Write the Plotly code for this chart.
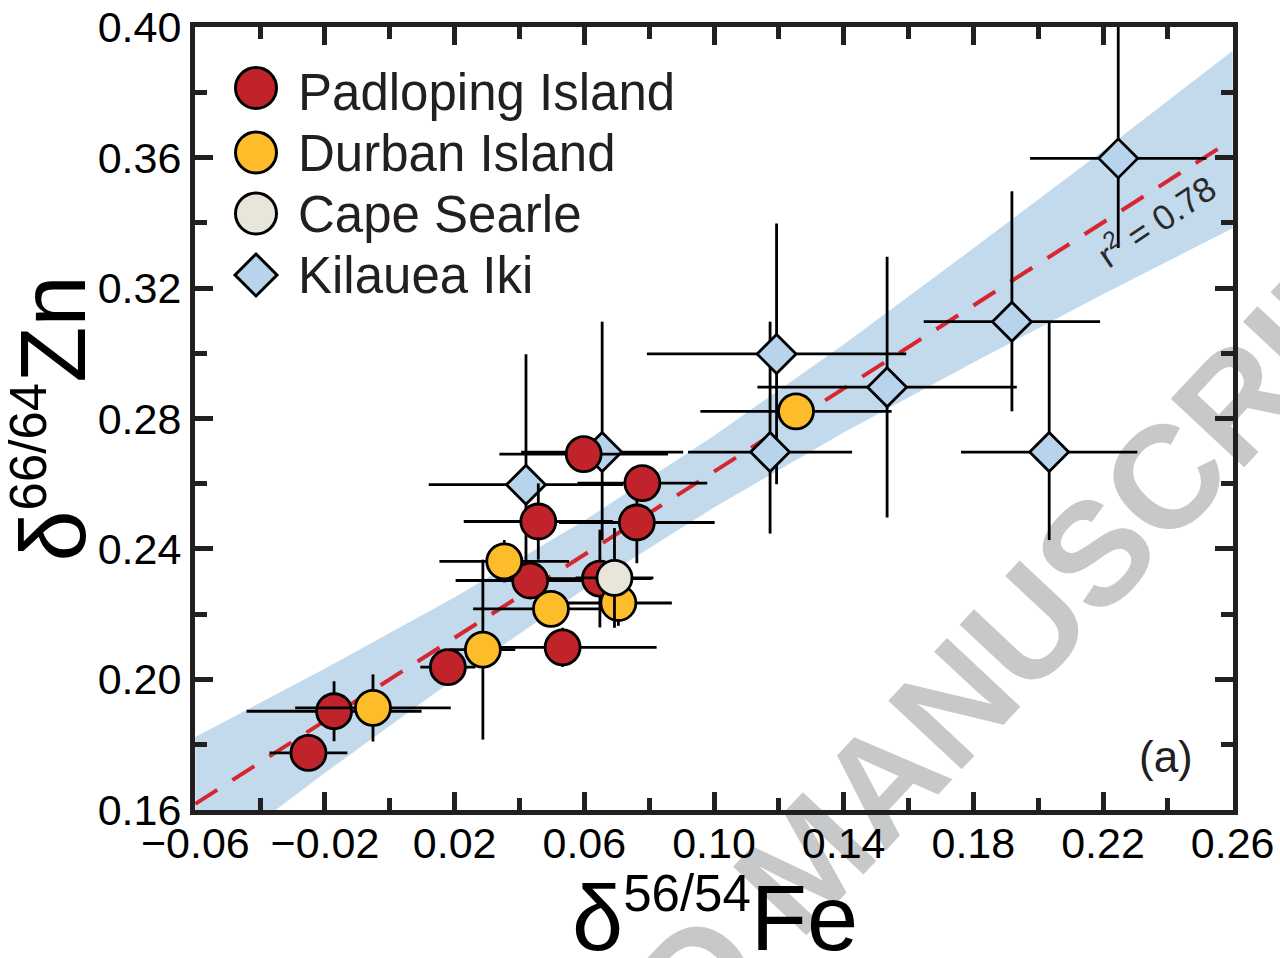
import plotly.graph_objects as go

FONT = "Liberation Sans, Arial, Helvetica, sans-serif"
INK = "#231F20"

# ---------------- data ----------------
# Padloping Island
pad_x = [-0.0251, -0.0172, 0.0179, 0.0533, 0.0433, 0.0458, 0.0648, 0.0598, 0.0779, 0.0762]
pad_y = [0.1774, 0.1902, 0.2037, 0.2098, 0.2303, 0.2484, 0.2309, 0.2691, 0.2602, 0.2481]
pad_xerr = [0.012, 0.027, 0.0085, 0.029, 0.023, 0.023, 0.016, 0.026, 0.020, 0.024]
pad_yerr = [0.004, 0.0092, 0.004, 0.006, 0.005, 0.0117, 0.015, 0.005, 0.004, 0.0125]

# Durban Island
dur_x = [-0.0052, 0.0287, 0.0353, 0.0497, 0.0705, 0.1253]
dur_y = [0.1912, 0.2091, 0.2362, 0.2216, 0.2234, 0.2822]
dur_xerr = [0.024, 0.010, 0.020, 0.024, 0.0165, 0.0295]
dur_yerr = [0.0103, 0.0276, 0.0065, 0.005, 0.007, 0.004]

# Cape Searle
cs_x = [0.0693]
cs_y = [0.2311]
cs_xerr = [0.012]
cs_yerr = [0.0153]

# Kilauea Iki
kil_x = [0.0420, 0.0655, 0.1193, 0.1173, 0.1534, 0.1919, 0.2034, 0.2247]
kil_y = [0.2597, 0.2697, 0.2998, 0.2697, 0.2896, 0.3097, 0.2697, 0.3598]
kil_xerr = [0.030, 0.025, 0.040, 0.0253, 0.040, 0.0272, 0.0272, 0.0272]
kil_yerr_plus = [0.040, 0.040, 0.040, 0.040, 0.040, 0.040, 0.040, 0.045]
kil_yerr_minus = [0.024, 0.027, 0.040, 0.025, 0.040, 0.0275, 0.027, 0.0275]

# regression line and its confidence band
fit_intercept = 0.200
fit_slope = 0.637
fit_r2_label = "r<sup>2</sup> = 0.78"
band_x = [-0.06, -0.02, 0.02, 0.06, 0.10, 0.14, 0.18, 0.22, 0.26]
band_upper = [0.1823, 0.2033, 0.2252, 0.2487, 0.2747, 0.3027, 0.3322, 0.3621, 0.3928]
band_lower = [0.1413, 0.1713, 0.2002, 0.2277, 0.2527, 0.2757, 0.2972, 0.3181, 0.3384]

# axes
x_range = [-0.0601, 0.2601]
y_range = [0.1599, 0.4001]
x_title = 'δ<sup><span style="font-size:51px">56/54</span></sup>Fe'
y_title = 'δ<sup><span style="font-size:51px">66/64</span></sup>Zn'

# legend
legend_names = ["Padloping Island", "Durban Island", "Cape Searle", "Kilauea Iki"]
legend_fills = ["#C1232A", "#FDBC2A", "#E8E6DA", "#B8D3EC"]
legend_symbols = ["circle", "circle", "circle", "diamond"]

RED, YEL, CSC, KIL = legend_fills
BAND = "#C3DAED"
FITC = "#D6262F"

fig = go.Figure()

fig.add_trace(go.Scatter(
    x=band_x + band_x[::-1], y=band_upper + band_lower[::-1],
    fill="toself", fillcolor=BAND, mode="lines", line=dict(width=0),
    hoverinfo="skip", showlegend=False))

fit_x = [band_x[0], band_x[-1]]
fig.add_trace(go.Scatter(
    x=fit_x, y=[fit_intercept + fit_slope * v for v in fit_x],
    mode="lines", line=dict(color=FITC, width=4, dash="26px,18px"),
    hoverinfo="skip", showlegend=False))


def series(name, xs, ys, xe, ye_p, ye_m, fill, symbol, size):
    return go.Scatter(
        x=xs, y=ys, name=name, mode="markers", showlegend=False,
        marker=dict(color=fill, symbol=symbol, size=size,
                    line=dict(color="#000000", width=2.8)),
        error_x=dict(type="data", array=xe, symmetric=True, color="#000000",
                     thickness=2.8, width=0),
        error_y=dict(type="data", array=ye_p, arrayminus=ye_m, symmetric=False,
                     color="#000000", thickness=2.8, width=0))


fig.add_trace(series("Kilauea Iki", kil_x, kil_y, kil_xerr, kil_yerr_plus, kil_yerr_minus, KIL, "diamond", 30))
fig.add_trace(series("Padloping Island", pad_x, pad_y, pad_xerr, pad_yerr, pad_yerr, RED, "circle", 35))
fig.add_trace(series("Durban Island", dur_x, dur_y, dur_xerr, dur_yerr, dur_yerr, YEL, "circle", 35))
fig.add_trace(series("Cape Searle", cs_x, cs_y, cs_xerr, cs_yerr, cs_yerr, CSC, "circle", 35))

axis_common = dict(
    showline=True, linewidth=5, linecolor=INK, mirror="ticks",
    ticks="inside", ticklen=18, tickwidth=5, tickcolor=INK,
    showgrid=False, zeroline=False, tickformat=".2f", automargin=False,
    tickfont=dict(family=FONT, size=43, color="#000000"),
)

fig.update_xaxes(
    range=x_range, tick0=-0.06, dtick=0.04,
    ticklabelposition="outside", ticklabelstandoff=-9,
    minor=dict(ticks="inside", ticklen=12, tickwidth=5, tickcolor=INK, dtick=0.02, tick0=-0.06, showgrid=False),
    **axis_common)
fig.update_yaxes(
    range=y_range, tick0=0.16, dtick=0.04,
    minor=dict(ticks="inside", ticklen=12, tickwidth=5, tickcolor=INK, dtick=0.02, tick0=0.16, showgrid=False),
    title=dict(text=y_title, font=dict(family=FONT, size=92, color="#000000"), standoff=10),
    **axis_common)

# plot-area geometry (pixels) for paper positioning
L, R, T, B = 195, 47, 27, 148
W, H = 1280, 958
PW, PH = W - L - R, H - T - B


def px(xp):
    return (xp - L) / PW


def py(yp):
    return (H - B - yp) / PH


shapes = []
annotations = []

# watermark, behind data
shapes.append(dict(
    type="rect", xref="paper", yref="paper",
    x0=px(797) - 0.001, x1=px(797) + 0.001, y0=py(851) - 0.001, y1=py(851) + 0.001,
    line=dict(width=0), fillcolor="rgba(0,0,0,0)", layer="below",
    label=dict(text="<b>ACCEPTED MANUSCRIPT</b>", textangle=-46.9,
               textposition="middle center",
               font=dict(family=FONT, size=146, color="#C7C8C9"))))

# x-axis title
annotations.append(dict(text=x_title, xref="paper", yref="paper",
                        x=px(715), y=py(917), xanchor="center", yanchor="middle",
                        showarrow=False, font=dict(family=FONT, size=92, color="#000000")))

# manual legend
glyph_y = [88, 152.5, 213.5, 275]
text_y = [92, 153.5, 214.5, 275.5]
for name, fill, sym, gy, ty in zip(legend_names, legend_fills, legend_symbols, glyph_y, text_y):
    if sym == "circle":
        shapes.append(dict(type="circle", xref="paper", yref="paper",
                           xsizemode="pixel", ysizemode="pixel",
                           xanchor=px(256), yanchor=py(gy),
                           x0=-20.5, x1=20.5, y0=-20.5, y1=20.5,
                           fillcolor=fill, line=dict(color="#000000", width=3)))
    else:
        shapes.append(dict(type="path", xref="paper", yref="paper",
                           xsizemode="pixel", ysizemode="pixel",
                           xanchor=px(256), yanchor=py(gy),
                           path="M -21 0 L 0 21 L 21 0 L 0 -21 Z",
                           fillcolor=fill, line=dict(color="#000000", width=3)))
    annotations.append(dict(text=name, xref="paper", yref="paper",
                            x=px(296), y=py(ty), xanchor="left", yanchor="middle",
                            showarrow=False,
                            font=dict(family=FONT, size=51, color=INK)))

annotations.append(dict(text="(a)", xref="paper", yref="paper",
                        x=px(1166), y=py(756), xanchor="center", yanchor="middle",
                        showarrow=False, font=dict(family=FONT, size=44, color=INK)))
annotations.append(dict(text=fit_r2_label, xref="paper", yref="paper",
                        x=px(1155), y=py(220), xanchor="center", yanchor="middle",
                        textangle=-34, showarrow=False,
                        font=dict(family=FONT, size=35, color="#2a2a2a")))

fig.update_layout(
    width=W, height=H,
    margin=dict(l=L, r=R, t=T, b=B, pad=0, autoexpand=False),
    paper_bgcolor="#FFFFFF", plot_bgcolor="#FFFFFF",
    showlegend=False,
    shapes=shapes, annotations=annotations,
    font=dict(family=FONT, color=INK),
)

fig.write_html("out.html", config={"displayModeBar": False},
               post_script="document.body.style.margin='0';document.body.style.overflow='hidden';")
